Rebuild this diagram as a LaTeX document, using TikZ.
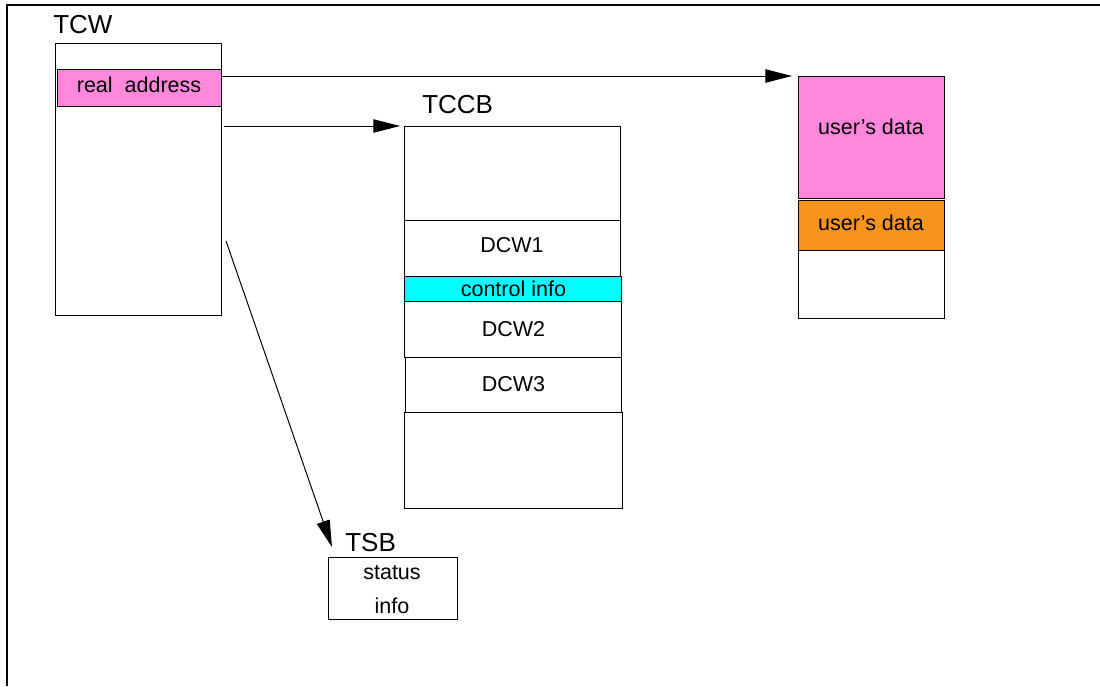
\documentclass[tikz,border=0pt]{standalone}
\usepackage{fontspec}
\setmainfont{Liberation Sans}
\usepackage{tikz}
\usetikzlibrary{arrows.meta, positioning, calc}
\definecolor{datapink}{RGB}{255, 136, 221}
\definecolor{dataorange}{RGB}{247, 148, 29}
\definecolor{infocyan}{RGB}{0, 255, 255}

\begin{document}
\begin{tikzpicture}[
    x=0.025cm, y=-0.025cm,
    every node/.style={font=\fontsize{15.3}{17}\selectfont},
    block/.style={rectangle, draw, line width=0.7pt, inner sep=0pt, outer sep=0pt, minimum width=5.4cm, align=center},
    title/.style={font=\fontsize{18.5}{20}\selectfont, inner sep=0pt, anchor=base west},
    arrow/.style={-{Triangle[length=19pt, width=9.5pt]}, line width=0.7pt}
]
\useasboundingbox (0,0) rectangle (1100,686);

% Frame
\draw[line width=0.9pt] (7,686) -- (7,5) -- (1100,5);

% TCW
\node[block, anchor=north west, minimum width=4.15cm, minimum height=6.8cm] (tcw) at (55,43) {};
\node[block, fill=datapink, anchor=north west, minimum width=4.1cm, minimum height=0.925cm, text depth=0.15cm] (raddr) at (57,69) {real\ \ address};
\node[title] (tcwlbl) at (53,33) {TCW};

% TCCB stack
\node[block, anchor=north west, minimum height=2.35cm] (tccbtop) at (404,126) {};
\node[block, below=0pt of tccbtop, minimum height=1.4cm, text depth=0.15cm] (dcw1) {DCW1};
\node[block, fill=infocyan, below=0pt of dcw1, xshift=1, minimum width=5.425cm, minimum height=0.625cm] (ctrl) {control info};
\node[block, below=0pt of ctrl, minimum width=5.425cm, minimum height=1.4cm] (dcw2) {DCW2};
\node[block, below=0pt of dcw2, minimum height=1.375cm] (dcw3) {DCW3};
\node[block, below=0pt of dcw3, minimum width=5.45cm, minimum height=2.4cm] (tccbbot) {};
\node[title] (tccblbl) at (422,113) {TCCB};

% user's data
\node[block, fill=datapink, anchor=north west, minimum width=3.65cm, minimum height=3.05cm, text depth=0.5cm] (udata1) at (798,76) {user’s data};
\node[block, fill=dataorange, below=2pt of udata1, minimum width=3.65cm, minimum height=1.25cm, text depth=0.15cm] (udata2) {user’s data};
\node[block, below=0pt of udata2, minimum width=3.65cm, minimum height=1.7cm] (udata3) {};

% TSB
\node[block, anchor=north west, minimum width=3.225cm, minimum height=1.55cm] (tsb) at (328,557) {};
\node[anchor=center] (tsbst) at (392,573) {status};
\node[anchor=center] (tsbin) at (392,606) {info};
\node[title] (tsblbl) at (345,551) {TSB};

% Arrows
\draw[arrow, shorten >=6\pgflinewidth] (raddr.east |- udata1.north west) -- (udata1.north west);
\draw[arrow, shorten <=3\pgflinewidth, shorten >=4\pgflinewidth] (tcw.east |- tccbtop.north west) -- (tccbtop.north west);
\draw[arrow] ($(tcw.east)+(5,62)$) -- ($(tsb.north west)+(4,-10)$);

\end{tikzpicture}
\end{document}
